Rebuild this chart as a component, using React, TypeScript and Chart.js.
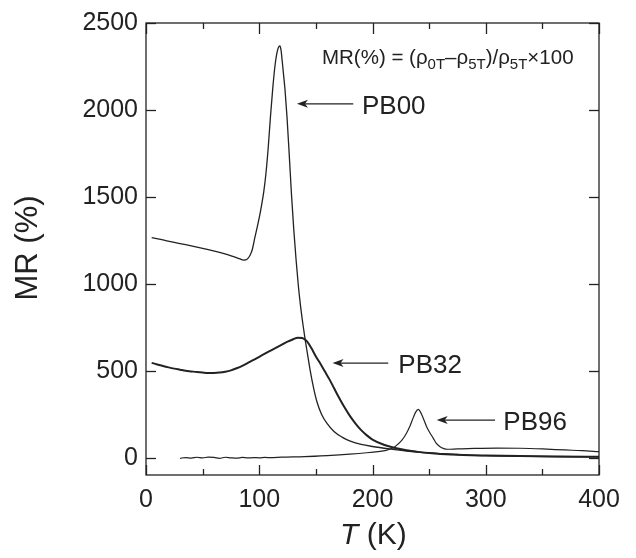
import React, { useEffect, useRef } from 'react';
import { Chart, registerables } from 'chart.js';

Chart.register(...registerables);

// ---- data (T in K, MR in %) ----
const PB00_T = [5, 15, 25, 35, 45, 55, 65, 72, 78, 83, 86, 88, 90, 92, 94, 96, 98, 100, 102, 104, 106, 108, 110, 112, 114, 116, 117.5, 118.3, 119.2, 120.3, 121.5, 122.7, 124.5, 126.5, 128.5, 130.5, 132.5, 134.5, 136.5, 138.5, 140.5, 142.5, 145, 148, 151, 155, 160, 166, 173, 181, 190, 200, 215, 230, 250, 275, 300, 340, 400];
const PB00_MR = [1266, 1252, 1238, 1225, 1211, 1196, 1180, 1168, 1155, 1143, 1136, 1137, 1146, 1165, 1200, 1262, 1320, 1380, 1450, 1530, 1640, 1790, 1970, 2130, 2260, 2340, 2365, 2368, 2345, 2280, 2200, 2120, 1960, 1740, 1510, 1310, 1140, 990, 870, 770, 680, 600, 500, 400, 320, 250, 195, 150, 118, 93, 76, 64, 50, 38, 27, 18, 11, 7, 4];

const PB32_T = [5, 10, 15, 20, 25, 30, 35, 40, 45, 50, 55, 60, 65, 70, 75, 80, 85, 90, 95, 100, 105, 110, 115, 120, 125, 130, 134, 138, 142, 146, 150, 154, 158, 162, 166, 170, 175, 180, 185, 190, 195, 200, 210, 220, 230, 240, 250, 260, 280, 300, 330, 360, 400];
const PB32_MR = [545, 536, 527, 519, 512, 506, 500, 496, 492, 489, 487, 487, 489, 494, 502, 514, 528, 545, 562, 580, 598, 616, 633, 650, 667, 681, 690, 688, 670, 630, 582, 540, 495, 450, 400, 350, 292, 240, 196, 158, 128, 104, 74, 55, 42, 33, 26, 21, 15, 12, 9, 7, 5];

const PB96_T = [30, 35, 40, 45, 50, 55, 60, 65, 70, 75, 80, 85, 90, 95, 100, 105, 110, 120, 140, 160, 180, 195, 205, 212, 218, 222, 226, 230, 233, 236, 238, 240.4, 242, 244, 247.8, 250, 253.7, 256, 259.6, 263, 266, 275, 290, 310, 330, 350, 370, 385, 400];
const PB96_MR = [-4, 0, -3, 2, -2, 3, 1, -4, 2, -1, -3, 1, -2, 0, -1, 1, 0, 3, 6, 12, 20, 28, 35, 42, 55, 75, 100, 140, 180, 230, 260, 277, 266, 240, 178, 150, 111, 85, 63, 52, 48, 50, 53, 55, 54, 50, 44, 40, 34];

const X_MAJOR = [0, 100, 200, 300, 400];
const X_MINOR = [50, 150, 250, 350];
const Y_TICKS = [0, 500, 1000, 1500, 2000, 2500];

const SERIES_NAMES = ['PB00', 'PB32', 'PB96'];

const INK = '#222222';
const FAMILY = '"Liberation Sans", Arial, Helvetica, sans-serif';

function toPoints(t: number[], v: number[]) {
  return t.map((x, i) => ({ x, y: v[i] }));
}

// annotation anchors in data coordinates
const ARROWS = [
  { name: SERIES_NAMES[0], tipT: 133.3, tailT: 183, labelT: 190.7, mr: 2035 },
  { name: SERIES_NAMES[1], tipT: 164.7, tailT: 213.9, labelT: 222.8, mr: 544 },
  { name: SERIES_NAMES[2], tipT: 256.7, tailT: 308.2, labelT: 315.5, mr: 216 },
];
const FORMULA_POS = { t: 155.4, mr: 2266 };

const overlay = {
  id: 'overlay',
  afterDraw(chart: any) {
    const { ctx, chartArea: a, scales } = chart;
    const xs = scales.x;
    const ys = scales.y;
    ctx.save();
    ctx.strokeStyle = INK;
    ctx.fillStyle = INK;
    ctx.lineWidth = 1.3;
    ctx.strokeRect(a.left, a.top, a.right - a.left, a.bottom - a.top);

    const seg = (x1: number, y1: number, x2: number, y2: number) => {
      ctx.beginPath();
      ctx.moveTo(x1, y1);
      ctx.lineTo(x2, y2);
      ctx.stroke();
    };
    for (const v of Y_TICKS) {
      const py = Math.round(ys.getPixelForValue(v)) + 0.5;
      seg(a.left, py, a.left + 10, py);
      seg(a.right - 10, py, a.right, py);
    }
    for (const v of X_MAJOR) {
      const px = Math.round(xs.getPixelForValue(v)) + 0.5;
      seg(px, a.bottom, px, a.bottom - 10);
      seg(px, a.top, px, a.top + 11);
    }
    for (const v of X_MINOR) {
      const px = Math.round(xs.getPixelForValue(v)) + 0.5;
      seg(px, a.bottom, px, a.bottom - 6);
      seg(px, a.top, px, a.top + 6);
    }

    // axis titles
    ctx.font = `31px ${FAMILY}`;
    ctx.textAlign = 'center';
    ctx.textBaseline = 'middle';
    ctx.save();
    ctx.translate(28, 248);
    ctx.rotate(-Math.PI / 2);
    ctx.fillText('MR (%)', 0, 0);
    ctx.restore();

    ctx.textAlign = 'left';
    ctx.textBaseline = 'alphabetic';
    const tx = 340;
    const ty = 544;
    ctx.font = `italic 30px ${FAMILY}`;
    ctx.fillText('T', tx, ty);
    const w1 = ctx.measureText('T').width;
    ctx.font = `30px ${FAMILY}`;
    ctx.fillText(' (K)', tx + w1, ty);

    // arrows + labels
    for (const ar of ARROWS) {
      const y = ys.getPixelForValue(ar.mr);
      const tip = xs.getPixelForValue(ar.tipT);
      const tail = xs.getPixelForValue(ar.tailT);
      ctx.lineWidth = 1.2;
      seg(tip + 6, y, tail, y);
      ctx.beginPath();
      ctx.moveTo(tip, y);
      ctx.lineTo(tip + 11, y - 4);
      ctx.lineTo(tip + 8, y);
      ctx.lineTo(tip + 11, y + 4);
      ctx.closePath();
      ctx.fill();
      ctx.font = `26px ${FAMILY}`;
      ctx.fillText(ar.name, xs.getPixelForValue(ar.labelT), y + 10);
    }

    // formula
    let fx = xs.getPixelForValue(FORMULA_POS.t);
    const fy = ys.getPixelForValue(FORMULA_POS.mr);
    const parts: [string, boolean][] = [
      ['MR(%) = (\u03c1', false],
      ['0T', true],
      ['\u2013\u03c1', false],
      ['5T', true],
      [')/\u03c1', false],
      ['5T', true],
      ['\u00d7100', false],
    ];
    for (const [s, sub] of parts) {
      ctx.font = sub ? `15px ${FAMILY}` : `20.5px ${FAMILY}`;
      ctx.fillText(s, fx, sub ? fy + 5 : fy);
      fx += ctx.measureText(s).width;
    }
    ctx.restore();
  },
};

export default function App() {
  const ref = useRef<HTMLCanvasElement | null>(null);
  useEffect(() => {
    if (!ref.current) return;
    const line = (t: number[], v: number[], w: number) => ({
      data: toPoints(t, v),
      showLine: true,
      borderColor: INK,
      backgroundColor: INK,
      borderWidth: w,
      pointRadius: 0,
      cubicInterpolationMode: 'monotone' as const,
      fill: false,
    });
    const chart = new Chart(ref.current, {
      type: 'scatter',
      data: {
        datasets: [
          { label: SERIES_NAMES[0], ...line(PB00_T, PB00_MR, 1.3) },
          { label: SERIES_NAMES[1], ...line(PB32_T, PB32_MR, 2) },
          { label: SERIES_NAMES[2], ...line(PB96_T, PB96_MR, 1.2) },
        ],
      },
      options: {
        responsive: false,
        animation: false,
        layout: { padding: { left: 0, top: 21, right: 37, bottom: 0 } },
        plugins: { legend: { display: false }, tooltip: { enabled: false } },
        scales: {
          x: {
            type: 'linear',
            min: 0,
            max: 400,
            ticks: { color: INK, font: { family: FAMILY, size: 25 }, padding: 10, maxRotation: 0, callback: (v: any) => String(v) },
            grid: { display: false, drawTicks: false },
            border: { display: false },
            afterBuildTicks: (s: any) => { s.ticks = X_MAJOR.map((value) => ({ value })); },
            afterFit: (s: any) => { s.height = 83; },
          },
          y: {
            type: 'linear',
            min: -100,
            max: 2500,
            ticks: { color: INK, font: { family: FAMILY, size: 25 }, padding: 8, callback: (v: any) => String(v) },
            grid: { display: false, drawTicks: false },
            border: { display: false },
            afterBuildTicks: (s: any) => { s.ticks = Y_TICKS.map((value) => ({ value })); },
            afterFit: (s: any) => { s.width = 146; },
          },
        },
      },
      plugins: [overlay],
    });
    return () => chart.destroy();
  }, []);
  return (
    <div style={{ position: 'absolute', left: 0, top: 0, width: 636, height: 558, background: '#fff' }}>
      <canvas ref={ref} width={636} height={558} />
    </div>
  );
}
